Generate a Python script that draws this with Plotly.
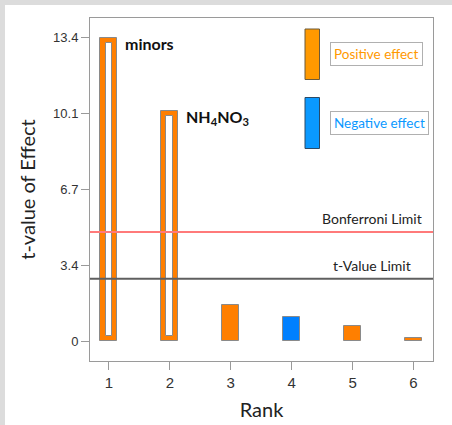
import plotly.graph_objects as go

# ---- data ----
ranks = [1, 2, 3, 4, 5, 6]
t_values = [13.4, 10.15, 1.6, 1.05, 0.65, 0.15]
effect = ["positive", "positive", "positive", "negative", "positive", "positive"]
hollow = [True, True, False, False, False, False]
bar_labels = {1: "minors", 2: "NH<sub>4</sub>NO<sub>3</sub>"}
bonferroni_limit = 4.82
t_value_limit = 2.75
y_tickvals = [0, 3.35, 6.7, 10.05, 13.4]
y_ticktext = ["0", "3.4", "6.7", "10.1", "13.4"]

# ---- style ----
ORANGE = "#FF7F00"
BLUE = "#0080FF"
LEG_ORANGE = "#FF9900"
LEG_BLUE = "#0A99FF"
OUTLINE = "#8a8a8a"
FONT = "Lato"
TICKFONT = "Liberation Sans"
PAGE_GRAY = "#dcdcdc"

# plot-area geometry (pixels) for paper-coordinate decorations
W, H = 452, 425
ML, MR, MT, MB = 90, 19, 18, 64
PW, PH = W - ML - MR, H - MT - MB


def px_x(p):
    return (p - ML) / PW


def px_y(p):
    return (H - MB - p) / PH


colors = [ORANGE if e == "positive" else BLUE for e in effect]

fig = go.Figure()
fig.add_trace(go.Bar(
    x=ranks, y=t_values, width=0.28,
    marker=dict(color=colors, line=dict(color=OUTLINE, width=1)),
    showlegend=False, hoverinfo="x+y",
))

# inner white part of the hollow bars
inset = 0.22
hx = [r for r, h in zip(ranks, hollow) if h]
hy = [v - 2 * inset for v, h in zip(t_values, hollow) if h]
fig.add_trace(go.Bar(
    x=hx, y=hy, base=[inset] * len(hx), width=0.11,
    marker=dict(color="white", line=dict(color=OUTLINE, width=1)),
    showlegend=False, hoverinfo="skip",
))

shapes = [
    # gray page strips on the left and top
    dict(type="rect", xref="paper", yref="paper", x0=px_x(-5), x1=px_x(5),
         y0=px_y(H + 5), y1=px_y(-5), fillcolor=PAGE_GRAY, line=dict(width=0), layer="below"),
    dict(type="rect", xref="paper", yref="paper", x0=px_x(-5), x1=px_x(W + 5),
         y0=px_y(5), y1=px_y(-5), fillcolor=PAGE_GRAY, line=dict(width=0), layer="below"),
    # limit lines
    dict(type="line", xref="paper", yref="y", x0=0, x1=1, y0=bonferroni_limit, y1=bonferroni_limit,
         line=dict(color="#FF7A7A", width=2)),
    dict(type="line", xref="paper", yref="y", x0=0, x1=1, y0=t_value_limit, y1=t_value_limit,
         line=dict(color="#5f5f5f", width=2)),
    # legend swatches
    dict(type="rect", xref="paper", yref="paper", x0=px_x(305), x1=px_x(319.5),
         y0=px_y(79.5), y1=px_y(29), fillcolor=LEG_ORANGE, line=dict(color="#6b5a3a", width=1)),
    dict(type="rect", xref="paper", yref="paper", x0=px_x(305), x1=px_x(319.5),
         y0=px_y(148.5), y1=px_y(97.5), fillcolor=LEG_BLUE, line=dict(color="#2a4a66", width=1)),
]

annotations = [
    dict(xref="paper", yref="paper", x=px_x(330), y=px_y(54), xanchor="left", yanchor="middle",
         text="Positive effect", showarrow=False, font=dict(family=FONT, size=13.5, color=LEG_ORANGE),
         bgcolor="white", bordercolor="#b0b0b0", borderwidth=1, borderpad=3),
    dict(xref="paper", yref="paper", x=px_x(330), y=px_y(123.3), xanchor="left", yanchor="middle",
         text="Negative effect", showarrow=False, font=dict(family=FONT, size=13.5, color=LEG_BLUE),
         bgcolor="white", bordercolor="#b0b0b0", borderwidth=1, borderpad=3),
    dict(xref="paper", yref="y", x=px_x(424), y=bonferroni_limit, yshift=13,
         xanchor="right", yanchor="middle", text="Bonferroni Limit", showarrow=False,
         font=dict(family=FONT, size=14, color="#222")),
    dict(xref="paper", yref="y", x=px_x(413), y=t_value_limit, yshift=13,
         xanchor="right", yanchor="middle", text="t-Value Limit", showarrow=False,
         font=dict(family=FONT, size=14, color="#222")),
]
for r, txt in bar_labels.items():
    annotations.append(dict(x=r, y=t_values[r - 1], xref="x", yref="y", xshift=14, yshift=-6,
                            xanchor="left", yanchor="middle", text=txt, showarrow=False,
                            font=dict(family=FONT, size=16, color="#111", weight="bold")))

fig.update_layout(
    width=W, height=H,
    margin=dict(l=ML, r=MR, t=MT, b=MB, pad=0),
    paper_bgcolor="white", plot_bgcolor="white",
    barmode="overlay", bargap=0,
    shapes=shapes, annotations=annotations,
    showlegend=False,
)
fig.update_xaxes(
    range=[0.69, 6.32], tickvals=ranks, ticktext=[str(r) for r in ranks], automargin=False,
    showgrid=False, zeroline=False, showline=True, mirror=True, linecolor="#9a9a9a", linewidth=1,
    ticks="outside", ticklen=8, tickcolor="#9a9a9a",
    tickfont=dict(family=TICKFONT, size=15, color="#333"),
    title=dict(text="Rank", font=dict(family=FONT, size=20, color="#222"), standoff=12),
)
fig.update_yaxes(
    range=[-0.88, 14.27], tickvals=y_tickvals, ticktext=y_ticktext, automargin=False,
    showgrid=False, zeroline=False, showline=True, mirror=True, linecolor="#9a9a9a", linewidth=1,
    ticks="outside", ticklen=8, tickcolor="#9a9a9a",
    tickfont=dict(family=TICKFONT, size=13, color="#333"),
    title=dict(text="t-value of Effect", font=dict(family=FONT, size=20, color="#222"), standoff=12),
)

fig.write_html(
    "out.html",
    config={"displayModeBar": False},
    post_script="document.body.style.margin='0';document.body.style.overflow='hidden';",
)
